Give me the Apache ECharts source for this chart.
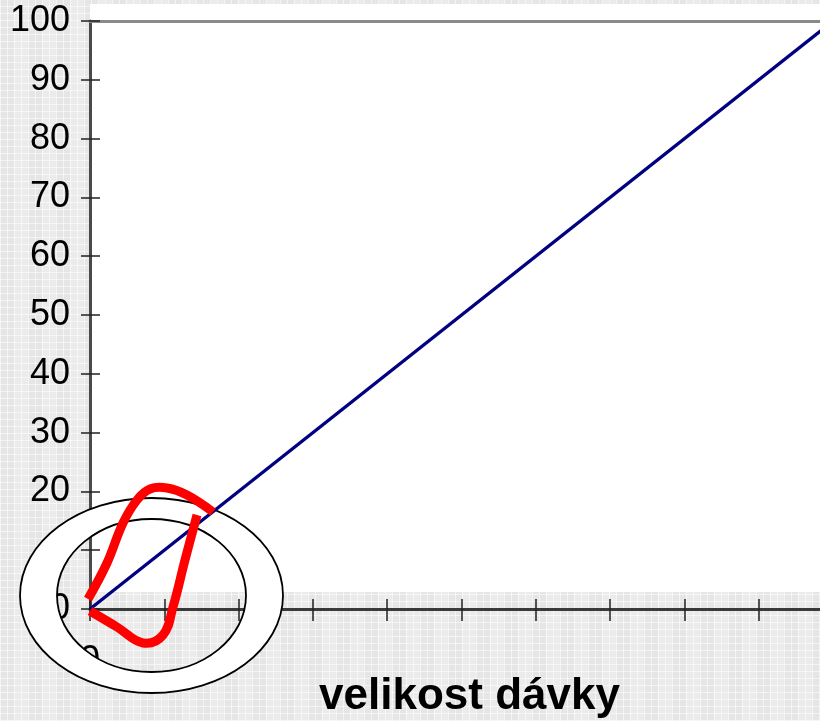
<!DOCTYPE html>
<html>
<head>
<meta charset="utf-8">
<script src="https://cdn.jsdelivr.net/npm/echarts@6/dist/echarts.min.js"></script>
<style>
  html, body { margin: 0; padding: 0; }
  body {
    width: 820px; height: 721px; overflow: hidden;
    background-color: #ebebeb;
    background-image:
      repeating-linear-gradient(90deg, rgba(255,255,255,0.55) 0 1px, transparent 1px 7px),
      repeating-linear-gradient(0deg, rgba(255,255,255,0.55) 0 1px, transparent 1px 7px),
      repeating-linear-gradient(90deg, rgba(0,0,0,0.025) 0 14px, transparent 14px 28px);
  }
  #chart { width: 820px; height: 721px; }
</style>
</head>
<body>
<div id="chart"></div>
<script>
// Data
const xValues = [0, 100];
const yValues = [0, 100];
const xAxisTitle = 'velikost dávky';
const xAxisMin = 0, xAxisMax = 100, xAxisStep = 10;
const yAxisMin = 0, yAxisMax = 100, yAxisStep = 10;
const xShownLabels = [0];
const yShownLabels = [0, 20, 30, 40, 50, 60, 70, 80, 90, 100];

const chart = echarts.init(document.getElementById('chart'), null, { renderer: 'canvas' });
const font = "'Liberation Sans', Arial, sans-serif";

// annotation ring (decoration, not data)
function ellipsePts(cx, cy, rx, ry, reverse) {
  const pts = [];
  const n = 120;
  for (let i = 0; i <= n; i++) {
    const t = (reverse ? -1 : 1) * i / n * Math.PI * 2;
    pts.push([cx + rx * Math.cos(t), cy + ry * Math.sin(t)]);
  }
  return pts;
}
const ringCx = 151.5, ringCy = 595.5;
const ringPts = ellipsePts(ringCx, ringCy, 131.5, 97.5, false)
  .concat(ellipsePts(ringCx, ringCy, 94.5, 76.5, true));

const option = {
  backgroundColor: 'transparent',
  animation: false,
  grid: { left: 90, top: 21, width: 743, height: 588, outerBoundsMode: 'none', containLabel: false },
  xAxis: [
    {
      type: 'value', position: 'bottom', min: xAxisMin, max: xAxisMax, interval: xAxisStep,
      axisLine: { show: true, lineStyle: { color: '#3a3a3a', width: 3 } },
      axisTick: { show: true, inside: false, length: 12, lineStyle: { color: '#222', width: 1.5 } },
      axisLabel: {
        show: true, margin: 34, fontSize: 36, fontFamily: font, color: '#000',
        formatter: v => xShownLabels.includes(v) ? String(v) : ''
      },
      splitLine: { show: false },
      name: xAxisTitle, nameLocation: 'middle', nameGap: 66, nameMoveOverlap: false,
      nameTextStyle: { fontSize: 44, fontWeight: 'bold', fontFamily: font, color: '#000', padding: [0, 0, 0, 16] }
    },
    {
      type: 'value', position: 'bottom', min: xAxisMin, max: xAxisMax, interval: xAxisStep, offset: 0,
      axisLine: { show: false },
      axisTick: { show: true, inside: true, length: 10, lineStyle: { color: '#222', width: 1.5 } },
      axisLabel: { show: false }, splitLine: { show: false }
    },
    {
      type: 'value', position: 'top', min: xAxisMin, max: xAxisMax, interval: xAxisStep,
      axisLine: { show: true, lineStyle: { color: '#8a8a8a', width: 3 } },
      axisTick: { show: false }, axisLabel: { show: false }, splitLine: { show: false }
    }
  ],
  yAxis: [
    {
      type: 'value', position: 'left', min: yAxisMin, max: yAxisMax, interval: yAxisStep, offset: 0,
      axisLine: { show: true, lineStyle: { color: '#4a4a4a', width: 3 } },
      axisTick: { show: true, inside: false, length: 9, lineStyle: { color: '#222', width: 1.5 } },
      axisLabel: {
        show: true, margin: 20, fontSize: 36, fontFamily: font, color: '#000',
        formatter: v => yShownLabels.includes(v) ? String(v) : ''
      },
      splitLine: { show: false }
    },
    {
      type: 'value', position: 'left', min: yAxisMin, max: yAxisMax, interval: yAxisStep, offset: 0,
      axisLine: { show: false },
      axisTick: { show: true, inside: true, length: 10, lineStyle: { color: '#222', width: 1.5 } },
      axisLabel: { show: false }, splitLine: { show: false }
    }
  ],
  series: [
    {
      type: 'line', xAxisIndex: 0, yAxisIndex: 0, z: 4,
      data: xValues.map((x, i) => [x, yValues[i]]),
      symbol: 'none', clip: true,
      lineStyle: { color: '#000080', width: 3.3 }
    }
  ],
  graphic: [
    { type: 'rect', z: -10, silent: true,
      shape: { x: 90, y: 4, width: 740, height: 588 },
      style: { fill: '#ffffff' } },
    { type: 'polygon', z: 3, silent: true,
      shape: { points: ringPts },
      style: { fill: '#ffffff', stroke: null } },
    { type: 'ellipse', z: 3, silent: true,
      shape: { cx: ringCx, cy: ringCy, rx: 131.5, ry: 97.5 },
      style: { fill: null, stroke: '#000', lineWidth: 1.8 } },
    { type: 'ellipse', z: 3, silent: true,
      shape: { cx: ringCx, cy: ringCy, rx: 94.5, ry: 76.5 },
      style: { fill: null, stroke: '#000', lineWidth: 1.8 } },
    { type: 'polyline', z: 5, silent: true,
      shape: { points: [[88,599],[107,563],[123,523],[137,500],[150,489],[167,488],[187,495],[213,512]], smooth: 0.4 },
      style: { stroke: '#ff0000', lineWidth: 9, fill: null, lineCap: 'butt', lineJoin: 'round' } },
    { type: 'polyline', z: 5, silent: true,
      shape: { points: [[197,515],[185,560],[173,607],[163,635],[143,643],[117,627],[90,611]], smooth: 0.4 },
      style: { stroke: '#ff0000', lineWidth: 9, fill: null, lineCap: 'butt', lineJoin: 'round' } }
  ]
};
chart.setOption(option);
</script>
</body>
</html>
